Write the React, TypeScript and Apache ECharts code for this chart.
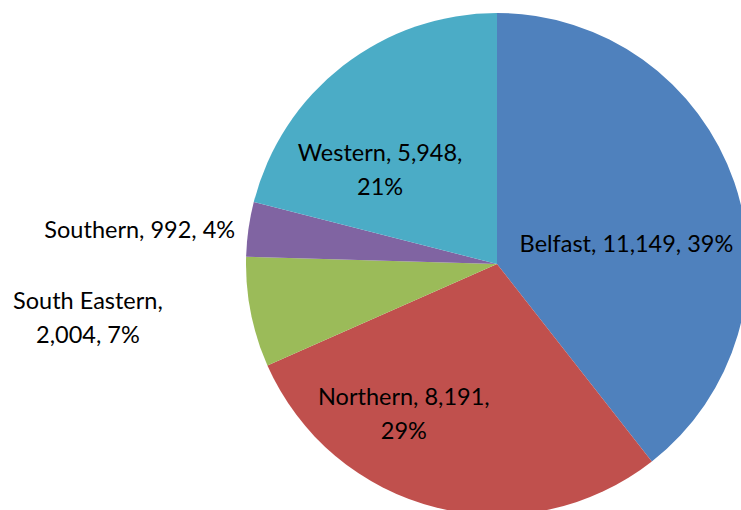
import React, { useEffect, useRef } from "react";
import * as echarts from "echarts";

const categories = ["Belfast", "Northern", "South Eastern", "Southern", "Western"];
const values = [11149, 8191, 2004, 992, 5948];
const colors = ["#4F81BD", "#C0504D", "#9BBB59", "#8064A2", "#4BACC6"];

// label text offsets relative to ECharts' default inside position
const labelShift: Record<string, [number, number]> = {
  Belfast: [8, 21],
  Northern: [-62, 24],
  "South Eastern": [-283, 28],
  Southern: [-230, -17],
  Western: [-38, 6],
};

const fmt = (n: number) => n.toLocaleString("en-US");

export default function App() {
  const ref = useRef<HTMLDivElement>(null);
  useEffect(() => {
    const chart = echarts.init(ref.current!, null, { renderer: "svg" });
    chart.setOption({
      animation: false,
      backgroundColor: "#ffffff",
      series: [
        {
          type: "pie",
          center: [497, 264],
          radius: 251,
          startAngle: 90,
          clockwise: true,
          avoidLabelOverlap: false,
          labelLine: { show: false },
          data: categories.map((name, i) => ({
            name,
            value: values[i],
            itemStyle: { color: colors[i] },
          })),
          label: {
            show: true,
            position: "inside",
            color: "#000",
            fontFamily: "Lato",
            fontSize: 23.5,
            lineHeight: 34,
            align: "center",
            formatter: (p: any) => {
              const v = fmt(p.value);
              const pc = Math.round(p.percent) + "%";
              if (p.name === "Northern" || p.name === "Western")
                return `${p.name}, ${v},\n${pc}`;
              if (p.name === "South Eastern") return `${p.name},\n${v}, ${pc}`;
              return `${p.name}, ${v}, ${pc}`;
            },
          },
          labelLayout: (params: any) => {
            const s = labelShift[categories[params.dataIndex]];
            return { dx: s[0], dy: s[1] };
          },
        },
      ],
    });
    return () => chart.dispose();
  }, []);
  return (
    <div
      ref={ref}
      style={{ position: "fixed", left: 0, top: 0, width: 741, height: 510 }}
    />
  );
}
